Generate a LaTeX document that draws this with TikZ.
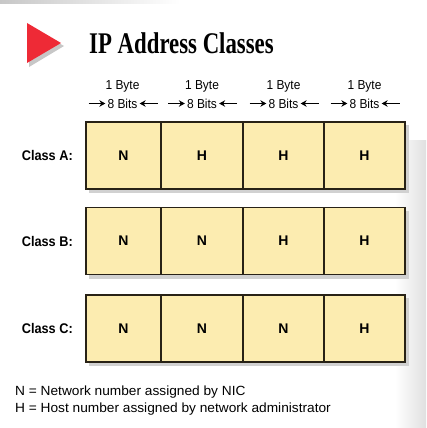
\documentclass[tikz,border=0pt]{standalone}
\usepackage{fontspec}
\setmainfont{Liberation Sans}
\newfontfamily\titlefont{Liberation Serif}
\newfontfamily\labelfont[FakeStretch=0.91]{Liberation Sans}
\newfontfamily\hdrfont[FakeStretch=0.92]{Liberation Sans}
\newfontfamily\keyfont[FakeStretch=1.03]{Liberation Sans}
\usetikzlibrary{arrows.meta}
\definecolor{cellfill}{RGB}{252,236,176}
\definecolor{celledge}{RGB}{40,34,22}
\definecolor{flagred}{RGB}{238,42,54}
\tikzset{
  cell/.style={draw=celledge, line width=1.4pt, fill=cellfill, minimum height=67pt,
    inner sep=0pt, font=\fontsize{14}{14}\selectfont\bfseries},
  rowlabel/.style={anchor=east, inner sep=0pt, font=\labelfont\fontsize{14}{14}\selectfont\bfseries},
  hdr/.style={inner sep=2pt, font=\hdrfont\fontsize{13}{13}\selectfont},
  keytext/.style={anchor=base west, inner sep=0pt, font=\keyfont\fontsize{13.3}{14}\selectfont},
}
\begin{document}
\begin{tikzpicture}[x=1pt, y=-1pt, >={Stealth[length=6pt,width=6.5pt]}]
  \useasboundingbox (0,0) rectangle (426,428);
  % faint page decoration
  \shade[left color=black!22, right color=white] (0,1) rectangle (180,4);
  \shade[left color=white, right color=black!12] (395,140) rectangle (426,428);

  % title
  \fill[black!22] (29,26) -- (29,67) -- (64,46) -- cycle;
  \fill[flagred] (27,23) -- (27,63) -- (61,43) -- cycle;
  \node[anchor=base west, inner sep=0pt] (title) at (89,53)
    {\titlefont\bfseries\fontsize{30}{30}\selectfont\scalebox{0.76}[1]{IP Address Classes}};

  % byte headers
  \foreach \i/\xc in {1/122.5,2/202,3/283.5,4/364.5} {
    \node[hdr] (byte\i) at (\xc,86) {1 Byte};
    \node[hdr] (bits\i) at (\xc,103.5) {8 Bits};
    \coordinate (bl\i) at (\xc-34,103.5);
    \coordinate (br\i) at (\xc+35,103.5);
    \draw[->, line width=1.3pt] (bl\i) -- (bits\i);
    \draw[->, line width=1.3pt] (br\i) -- (bits\i);
  }

  % address rows
  \foreach \row/\yc/\a/\b/\c/\d in {A/155.5/N/H/H/H, B/241/N/N/H/H, C/328.5/N/N/N/H} {
    \fill[black!18] (89,\yc-30.5) rectangle (409,\yc+37.5);
    \node[rowlabel] (lab\row) at (73,\yc) {Class \row:};
    \node[cell, minimum width=75pt] (\row1) at (123.5,\yc) {\a};
    \node[cell, minimum width=82pt] (\row2) at (202,\yc) {\b};
    \node[cell, minimum width=81pt] (\row3) at (283.5,\yc) {\c};
    \node[cell, minimum width=81pt] (\row4) at (364.5,\yc) {\d};
  }

  % key
  \node[keytext] (keyN) at (15,395) {N = Network number assigned by NIC};
  \node[keytext] (keyH) at (15,412) {H = Host number assigned by network administrator};
\end{tikzpicture}
\end{document}
